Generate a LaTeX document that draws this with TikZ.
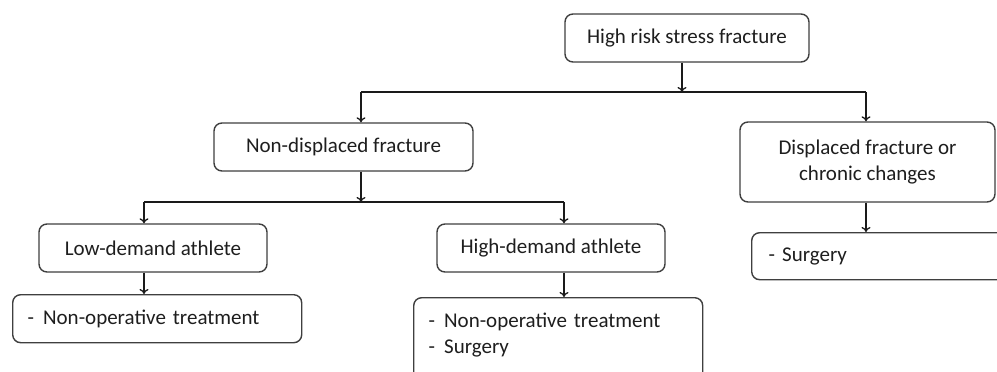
\documentclass[tikz,border=0pt]{standalone}
\usepackage{fontspec}
\setmainfont{Carlito}
\usetikzlibrary{arrows.meta}
\definecolor{boxgray}{HTML}{3F3F3F}
\definecolor{txtgray}{HTML}{1E1E1E}
\definecolor{linegray}{HTML}{1A1A1A}
\newcommand{\dashgap}{-\hspace{9pt}}
\begin{document}
\begin{tikzpicture}[x=1pt, y=-1pt]

      \tikzset{box/.style={draw=boxgray, line width=1.4pt, rounded corners=8pt, fill=white, inner sep=0pt, align=center, text=txtgray, font=\fontsize{21}{26}\selectfont},
               listbox/.style={box, align=left, inner xsep=15pt},
               arr/.style={-{To[length=5pt, width=9pt]}, line width=1.3pt, draw=linegray}}
      \clip (0,0) rectangle (997,372);
%% Boxes
      	\node[box, minimum width=244pt, minimum height=48pt] (risk) at (687,38) {High risk stress fracture};
      	\node[box, minimum width=259pt, minimum height=48pt] (nondisp) at (343.5,147) {Non-displaced fracture};
      	\node[box, minimum width=255pt, minimum height=80pt] (disp) at (867.5,162) {Displaced fracture or\\chronic changes};
      	\node[box, minimum width=228pt, minimum height=48pt] (low) at (153,248) {Low-demand athlete};
      	\node[box, minimum width=228pt, minimum height=48pt] (high) at (551,248) {High-demand athlete};
      	\node[listbox, anchor=north west, text width=259pt, minimum height=48pt] (lowtx) at (12,294) {\dashgap Non-operative treatment};
      	\node[listbox, anchor=north west, text width=259pt, text height=15pt, text depth=50pt, inner ysep=15pt] (hightx) at (413,297) {\dashgap Non-operative treatment\\\dashgap Surgery};
      	\node[listbox, anchor=north west, inner xsep=17pt, text width=250pt, minimum height=47pt] (disptx) at (751,232) {-\hspace{7pt}Surgery};
%Junctions
      	\coordinate (j1) at (682,92);
      	\coordinate (b1l) at (361,92);
      	\coordinate (b1r) at (866,92);
      	\coordinate (j2) at (361,202);
      	\coordinate (b2l) at (144,202);
      	\coordinate (b2r) at (564,202);
%Connectors
		\draw [arr] (j1 |- risk.south) -- (j1);
		\draw [line width=1.3pt, draw=linegray] (b1l) -- (b1r);
		\draw [arr] (b1l) -- (b1l |- nondisp.north);
		\draw [arr] (b1r) -- (b1r |- disp.north);
		\draw [arr] (j2 |- nondisp.south) -- (j2);
		\draw [line width=1.3pt, draw=linegray] (b2l) -- (b2r);
		\draw [arr] (b2l) -- (b2l |- low.north);
		\draw [arr] (b2r) -- (b2r |- high.north);
		\draw [arr] (b2l |- low.south) -- (b2l |- lowtx.north);
		\draw [arr] (b2r |- high.south) -- (b2r |- hightx.north);
		\draw [arr] (b1r |- disp.south) -- (b1r |- disptx.north);

	\end{tikzpicture}
\end{document}
